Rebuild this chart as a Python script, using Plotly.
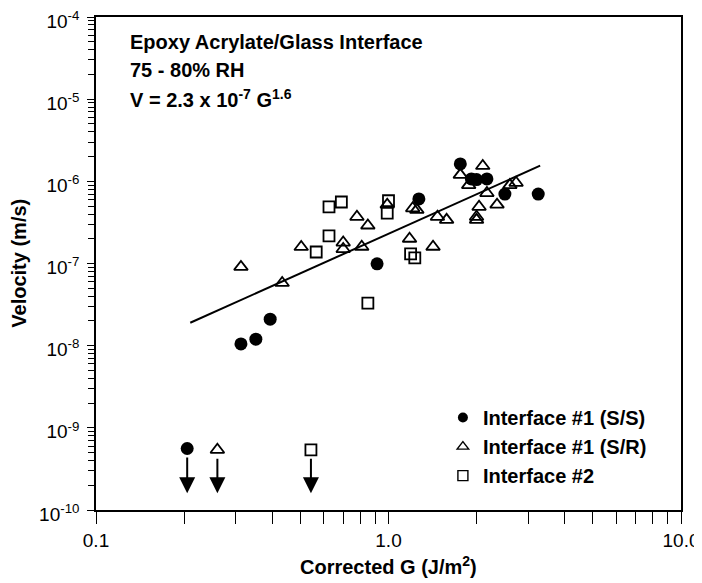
import math
import plotly.graph_objects as go

# ---- data ----
ss_g = [0.313, 0.352, 0.394, 0.914, 1.27, 1.76, 1.92, 2.0, 2.17, 2.50, 3.25]
ss_v = [1.05e-8, 1.2e-8, 2.1e-8, 9.9e-8, 6.1e-7, 1.63e-6, 1.07e-6, 1.05e-6, 1.07e-6, 7.0e-7, 7.0e-7]

sr_g = [0.313, 0.433, 0.503, 0.70, 0.70, 0.78, 0.81, 0.85, 0.99, 1.18, 1.21, 1.25, 1.42, 1.47, 1.58,
        1.76, 1.88, 2.0, 2.0, 2.04, 2.10, 2.17, 2.35, 2.60, 2.73]
sr_v = [9.1e-8, 5.8e-8, 1.59e-7, 1.8e-7, 1.5e-7, 3.7e-7, 1.6e-7, 2.9e-7, 5.2e-7, 2.0e-7, 4.7e-7, 4.5e-7, 1.6e-7, 3.7e-7, 3.4e-7,
        1.2e-6, 9.0e-7, 3.7e-7, 3.4e-7, 4.9e-7, 1.54e-6, 7.2e-7, 5.2e-7, 9.0e-7, 9.6e-7]

i2_g = [0.566, 0.626, 0.626, 0.69, 0.85, 0.99, 1.0, 1.19, 1.23]
i2_v = [1.38e-7, 4.9e-7, 2.17e-7, 5.6e-7, 3.3e-8, 4.1e-7, 5.8e-7, 1.31e-7, 1.17e-7]

# upper-bound points (drawn with downward arrows)
bound_g = [0.205, 0.26, 0.543]
bound_v = [5.6e-10, 5.4e-10, 5.4e-10]
bound_tip_v = [1.6e-10, 1.6e-10, 1.6e-10]

# power-law fit V = 2.3e-7 G^1.6, end points
fit_g = [0.21, 3.3]
fit_v = [1.9e-8, 1.55e-6]

x_tickvals = [0.1, 1.0, 10.0]
x_ticktext = ["0.1", "1.0", "10.0"]
y_exps = [-10, -9, -8, -7, -6, -5, -4]
minor_digits = [2, 3, 4, 5, 6, 7, 8, 9]

FONT = "Liberation Sans"

fig = go.Figure()

fig.add_trace(go.Scatter(x=fit_g, y=fit_v, mode="lines",
                         line=dict(color="black", width=2), showlegend=False, hoverinfo="skip"))

fig.add_trace(go.Scatter(x=ss_g + [bound_g[0]], y=ss_v + [bound_v[0]], mode="markers",
                         marker=dict(symbol="circle", size=13, color="black"), showlegend=False))
fig.add_trace(go.Scatter(x=sr_g + [bound_g[1]], y=sr_v + [bound_v[1]], mode="markers",
                         marker=dict(symbol="triangle-up-open", size=12, color="black",
                                     line=dict(width=1.8, color="black")), showlegend=False))
fig.add_trace(go.Scatter(x=i2_g + [bound_g[2]], y=i2_v + [bound_v[2]], mode="markers",
                         marker=dict(symbol="square-open", size=11, color="black",
                                     line=dict(width=1.8, color="black")), showlegend=False))

# legend entries
fig.add_trace(go.Scatter(x=[None], y=[None], mode="markers", name="Interface #1 (S/S)",
                         marker=dict(symbol="circle", size=10, color="black")))
fig.add_trace(go.Scatter(x=[None], y=[None], mode="markers", name="Interface #1 (S/R)",
                         marker=dict(symbol="triangle-up-open", size=10, color="black",
                                     line=dict(width=1.4, color="black"))))
fig.add_trace(go.Scatter(x=[None], y=[None], mode="markers", name="Interface #2",
                         marker=dict(symbol="square-open", size=10, color="black",
                                     line=dict(width=1.4, color="black"))))

annotations = []
for g, v0, v1 in zip(bound_g, bound_v, bound_tip_v):
    annotations.append(dict(x=math.log10(g), y=math.log10(v1), ax=math.log10(g),
                            ay=math.log10(v0) - 0.09, xref="x", yref="y", axref="x", ayref="y",
                            showarrow=True, arrowhead=2, arrowsize=1.6, arrowwidth=2,
                            arrowcolor="black", text=""))

title_lines = ["Epoxy Acrylate/Glass Interface", "75 - 80% RH",
               "V = 2.3 x 10<sup>-7</sup> G<sup>1.6</sup>"]
for i, t in enumerate(title_lines):
    annotations.append(dict(x=0.055, y=0.949 - i * 0.057, xref="paper", yref="paper",
                            xanchor="left", yanchor="middle", showarrow=False, text=t,
                            font=dict(family=FONT, size=20, color="black", weight="bold")))

# axis titles
annotations.append(dict(x=0.5, y=-0.113, xref="paper", yref="paper", xanchor="center",
                        yanchor="middle", showarrow=False, text="Corrected G (J/m<sup>2</sup>)",
                        font=dict(family=FONT, size=20, color="black", weight="bold")))
annotations.append(dict(x=-0.133, y=0.5, xref="paper", yref="paper", xanchor="center",
                        yanchor="middle", showarrow=False, text="Velocity (m/s)", textangle=-90,
                        font=dict(family=FONT, size=20, color="black", weight="bold")))

# the page body adds an 8 px offset, so the figure is 8 px smaller and shifted margins
fig.update_layout(
    width=694, height=575,
    margin=dict(l=88, r=21, t=9, b=73, autoexpand=False),
    paper_bgcolor="white", plot_bgcolor="white",
    font=dict(family=FONT, size=18, color="black"),
    annotations=annotations,
    legend=dict(x=0.593, y=0.227, xanchor="left", yanchor="top",
                bgcolor="rgba(0,0,0,0)", tracegroupgap=0,
                font=dict(family=FONT, size=20, color="black", weight="bold")),
    xaxis=dict(type="log", range=[-1, 1], tickvals=x_tickvals, ticktext=x_ticktext,
               automargin=False, ticklabeloverflow="allow",
               ticks="outside", ticklen=12, tickwidth=1, tickcolor="black",
               showline=True, linecolor="black", linewidth=1.5, mirror=True,
               showgrid=False, zeroline=False,
               minor=dict(ticks="outside", ticklen=12, tickwidth=1, tickcolor="black", showgrid=False,
                          tickvals=[d * 10.0 ** e for e in [-1, 0] for d in minor_digits]),
               tickfont=dict(family=FONT, size=19)),
    yaxis=dict(type="log", range=[-10, -4], tickvals=[10.0 ** e for e in y_exps],
               ticktext=["10<sup>%d</sup>" % e for e in y_exps],
               automargin=False, ticklabelstandoff=4, ticklabeloverflow="allow",
               ticklabelshift=4,
               ticks="outside", ticklen=7, tickwidth=1, tickcolor="black",
               showline=True, linecolor="black", linewidth=1.5, mirror=True,
               showgrid=False, zeroline=False,
               minor=dict(ticks="outside", ticklen=6, tickwidth=1, tickcolor="black", showgrid=False,
                          tickvals=[d * 10.0 ** e for e in range(-10, -4) for d in minor_digits]),
               tickfont=dict(family=FONT, size=19)),
)

fig.write_html("out.html")
